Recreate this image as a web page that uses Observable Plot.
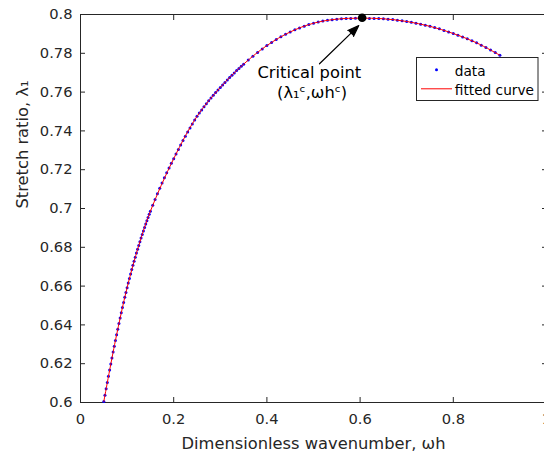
<!DOCTYPE html>
<html>
<head>
<meta charset="utf-8">
<script src="https://cdn.jsdelivr.net/npm/d3@7"></script>
<script src="https://cdn.jsdelivr.net/npm/@observablehq/plot@0.6"></script>
<style>
  html, body { margin: 0; padding: 0; background: #fff; overflow: hidden; width: 544px; height: 454px; }
  #wrap { position: relative; width: 548px; height: 454px; }
  #legend { position: absolute; left: 415.5px; top: 56.5px; }
  #legend text { font-family: "DejaVu Sans"; font-size: 13.7px; fill: #000; }
</style>
</head>
<body>
<div id="wrap"></div>
<script>
// ---- data ----
const dataX = [
  0.05, 0.0525, 0.055, 0.0575, 0.06, 0.0625, 0.065, 0.0675, 0.07, 0.0725, 0.075, 0.0775,
  0.08, 0.0825, 0.085, 0.0875, 0.09, 0.0925, 0.095, 0.0975, 0.10, 0.1025, 0.105, 0.1075,
  0.11, 0.1125, 0.115, 0.1175, 0.12, 0.1225, 0.125, 0.1275, 0.13, 0.1325, 0.135, 0.1375,
  0.14, 0.1425, 0.145, 0.1475, 0.15,
  0.155, 0.16, 0.165, 0.17, 0.175, 0.18, 0.185, 0.19, 0.195, 0.20, 0.205, 0.21, 0.215,
  0.22, 0.225, 0.23, 0.235, 0.24, 0.245, 0.25, 0.255, 0.26, 0.265, 0.27, 0.275, 0.28,
  0.285, 0.29, 0.295, 0.30, 0.305, 0.31, 0.315, 0.32, 0.325, 0.33, 0.335, 0.34, 0.345, 0.35,
  0.36, 0.37, 0.38, 0.39, 0.40, 0.41, 0.42, 0.43, 0.44, 0.45, 0.46, 0.47, 0.48, 0.49, 0.50,
  0.51, 0.52, 0.53, 0.54, 0.55, 0.56, 0.57, 0.58, 0.59, 0.60, 0.61, 0.62, 0.63, 0.64, 0.65,
  0.66, 0.67, 0.68, 0.69, 0.70, 0.71, 0.72, 0.73, 0.74, 0.75, 0.76, 0.77, 0.78, 0.79, 0.80,
  0.81, 0.82, 0.83, 0.84, 0.85, 0.86, 0.87, 0.88, 0.89, 0.90
];
const dataY = [
  0.6005, 0.6038, 0.6071, 0.6103, 0.6135, 0.6167, 0.6198, 0.6229, 0.6260, 0.6290, 0.6320, 0.6349,
  0.6378, 0.6407, 0.6435, 0.6463, 0.6490, 0.6516, 0.6542, 0.6567, 0.6592, 0.6616, 0.6639, 0.6662,
  0.6685, 0.6707, 0.6728, 0.6749, 0.6770, 0.6790, 0.6809, 0.6829, 0.6848, 0.6866, 0.6884, 0.6902,
  0.6920, 0.6937, 0.6953, 0.6970, 0.6986,
  0.7017, 0.7047, 0.7076, 0.7104, 0.7131, 0.7158, 0.7184, 0.7209, 0.7233, 0.7257, 0.7281, 0.7304, 0.7327,
  0.7350, 0.7372, 0.7394, 0.7415, 0.7436, 0.7456, 0.7475, 0.7492, 0.7508, 0.7524, 0.7540, 0.7555, 0.7570,
  0.7584, 0.7598, 0.7611, 0.7624, 0.7637, 0.7650, 0.7663, 0.7675, 0.7687, 0.7699, 0.7711, 0.7722, 0.7733, 0.7744,
  0.7765, 0.7785, 0.7804, 0.7822, 0.7840, 0.7856, 0.7871, 0.7885, 0.7898, 0.7910, 0.7921, 0.7931, 0.7940, 0.7948, 0.7955,
  0.7961, 0.7966, 0.7970, 0.7973, 0.7976, 0.7978, 0.7979, 0.7980, 0.7981, 0.7981, 0.7981, 0.7980, 0.7980, 0.7979, 0.7978,
  0.7976, 0.7974, 0.7971, 0.7968, 0.7964, 0.7960, 0.7955, 0.7950, 0.7945, 0.7939, 0.7933, 0.7926, 0.7918, 0.7910, 0.7902,
  0.7893, 0.7884, 0.7875, 0.7865, 0.7854, 0.7842, 0.7830, 0.7817, 0.7804, 0.7790
];
const fitX = [0.05, 0.075, 0.10, 0.125, 0.15, 0.20, 0.25, 0.30, 0.35, 0.40, 0.45, 0.50, 0.55, 0.60, 0.65, 0.70, 0.75, 0.80, 0.85, 0.90];
const fitY = [0.6005, 0.6320, 0.6592, 0.6809, 0.6986, 0.7257, 0.7475, 0.7624, 0.7744, 0.7840, 0.7910, 0.7955, 0.7976, 0.7981, 0.7978, 0.7964, 0.7939, 0.7902, 0.7854, 0.7790];

const criticalX = [0.6044];
const criticalY = [0.7983];
const arrowX1 = [0.5129], arrowY1 = [0.7746], arrowX2 = [0.5972], arrowY2 = [0.7943];
const noteText = ["Critical point", "(λ\u2081\u1D9C,ωh\u1D9C)"];
const noteX = [0.491, 0.497];
const noteY = [0.76985, 0.7599];

const xTicks = [0, 0.2, 0.4, 0.6, 0.8, 1];
const xTickLabels = ["0", "0.2", "0.4", "0.6", "0.8", "1"];
const yTicks = [0.6, 0.62, 0.64, 0.66, 0.68, 0.7, 0.72, 0.74, 0.76, 0.78, 0.8];
const yTickLabels = ["0.6", "0.62", "0.64", "0.66", "0.68", "0.7", "0.72", "0.74", "0.76", "0.78", "0.8"];
const xLabel = "Dimensionless wavenumber, ωh";
const yLabel = "Stretch ratio, λ\u2081";
const legendLabels = ["data", "fitted curve"];

// ---- tables built from arrays ----
const data = dataX.map((x, i) => ({x, y: dataY[i]}));
const fit = fitX.map((x, i) => ({x, y: fitY[i]}));
const critical = criticalX.map((x, i) => ({x, y: criticalY[i]}));
const arrows = arrowX1.map((x1, i) => ({x1, y1: arrowY1[i], x2: arrowX2[i], y2: arrowY2[i]}));
const notes = noteText.map((t, i) => ({t, x: noteX[i], y: noteY[i]}));

const ink = "#262626";
const fmtX = d => xTickLabels[xTicks.findIndex(v => Math.abs(v - d) < 1e-9)];
const fmtY = d => yTickLabels[yTicks.findIndex(v => Math.abs(v - d) < 1e-9)];

const chart = Plot.plot({
  width: 548,
  height: 454,
  marginLeft: 80,
  marginRight: 2,
  marginTop: 14,
  marginBottom: 52,
  style: {fontFamily: "DejaVu Sans", fontSize: "14.7px", color: ink, background: "#fff", overflow: "visible"},
  x: {domain: [0, 1]},
  y: {domain: [0.6, 0.8]},
  marks: [
    Plot.frame({stroke: ink, strokeWidth: 1}),
    Plot.axisX({anchor: "bottom", ticks: xTicks, tickSize: -5, tickPadding: 16.5, tickFormat: fmtX, label: null, fill: ink}),
    Plot.axisX({anchor: "top", ticks: xTicks, tickSize: -5, tickFormat: () => "", label: null}),
    Plot.axisY({anchor: "left", ticks: yTicks, tickSize: -5, tickPadding: 13, tickFormat: fmtY, label: null, fill: ink}),
    Plot.axisY({anchor: "right", ticks: yTicks, tickSize: -5, tickFormat: () => "", label: null}),
    Plot.text([xLabel], {frameAnchor: "bottom", dy: 40.8, text: d => d, fontSize: 16.3, fill: ink, lineAnchor: "middle"}),
    Plot.text([yLabel], {frameAnchor: "left", dx: -58, rotate: -90, text: d => d, fontSize: 16.3, fill: ink, lineAnchor: "middle"}),
    Plot.dot(data, {x: "x", y: "y", r: 1.5, fill: "#0000ff", stroke: null}),
    Plot.line(fit, {x: "x", y: "y", stroke: "#ff0000", strokeWidth: 1, curve: "catmull-rom"}),
    Plot.arrow(arrows, {x1: "x1", y1: "y1", x2: "x2", y2: "y2", stroke: "#000", fill: "#000", strokeWidth: 1.2, headLength: 15, headAngle: 40}),
    Plot.dot(critical, {x: "x", y: "y", r: 4.3, fill: "#000", stroke: null}),
    Plot.text(notes, {x: "x", y: "y", text: "t", fontSize: 16.3, fill: "#000", lineAnchor: "middle"})
  ]
});

const wrap = document.getElementById("wrap");
wrap.appendChild(chart);

// legend
const ns = "http://www.w3.org/2000/svg";
const lg = d3.select(wrap).append("svg").attr("id", "legend").attr("width", 124).attr("height", 45);
lg.append("rect").attr("x", 0.5).attr("y", 0.5).attr("width", 121.5).attr("height", 43).attr("fill", "#fff").attr("stroke", ink);
lg.append("circle").attr("cx", 20.5).attr("cy", 12.8).attr("r", 1.5).attr("fill", "#0000ff");
lg.append("text").attr("x", 38.8).attr("y", 18.5).text(legendLabels[0]);
lg.append("line").attr("x1", 5).attr("x2", 36).attr("y1", 31.8).attr("y2", 31.8).attr("stroke", "#ff0000").attr("stroke-width", 1);
lg.append("text").attr("x", 38.8).attr("y", 38.3).text(legendLabels[1]);
</script>
</body>
</html>
